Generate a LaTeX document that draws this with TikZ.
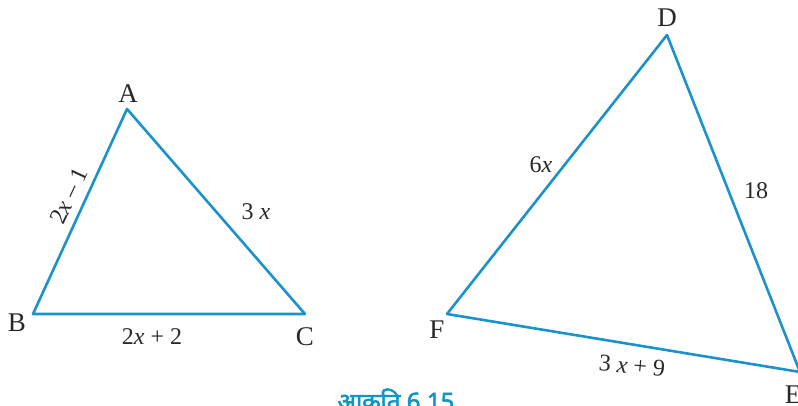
\documentclass[tikz,border=0pt]{standalone}
\usepackage{fontspec}
\setmainfont{Liberation Serif}
\newfontfamily\devfont[Script=Devanagari,FakeBold=2.5]{Noto Sans}
\definecolor{edge}{RGB}{28,146,204}
\definecolor{ttl}{RGB}{16,150,196}
\definecolor{lbl}{RGB}{40,40,40}
\begin{document}
\begin{tikzpicture}[x=1pt,y=-1pt,
  side/.style={draw=edge,line width=2.6pt,line join=round},
  vlab/.style={text=lbl,font=\fontsize{27}{30}\selectfont,inner sep=0pt},
  slab/.style={text=lbl,font=\fontsize{24}{28}\selectfont,inner sep=0pt}]
\useasboundingbox (0,0) rectangle (798,406);
% vertices
\coordinate (A) at (127,109);
\coordinate (B) at (33,314);
\coordinate (C) at (305,314);
\coordinate (D) at (667,35);
\coordinate (F) at (447,314);
\coordinate (E) at (800,372);
\draw[side] (A) -- (B) -- (C) -- cycle;
\draw[side] (D) -- (F) -- (E) -- cycle;
% vertex labels
\node[vlab] (lA) at (128,94) {A};
\node[vlab] (lB) at (17,323) {B};
\node[vlab] (lC) at (305,337) {C};
\node[vlab] (lD) at (667,18) {D};
\node[vlab] (lF) at (437,330) {F};
\node[vlab] (lE) at (793,395) {E};
% side labels
\node[slab,rotate=65] (sAB) at (69,196) {2\textit{x} – 1};
\node[slab] (sAC) at (256,212) {3 \textit{x}};
\node[slab] (sBC) at (152,337) {2\textit{x} + 2};
\node[slab] (sDF) at (541,165) {6\textit{x}};
\node[slab] (sDE) at (756,191) {18};
\node[slab,rotate=-5] (sFE) at (632,366) {3 \textit{x} + 9};
% caption
\node[text=ttl,font=\devfont\fontsize{24}{28}\selectfont,inner sep=0pt,anchor=base] (cap) at (396,410) {आकृति 6.15};
\end{tikzpicture}
\end{document}
